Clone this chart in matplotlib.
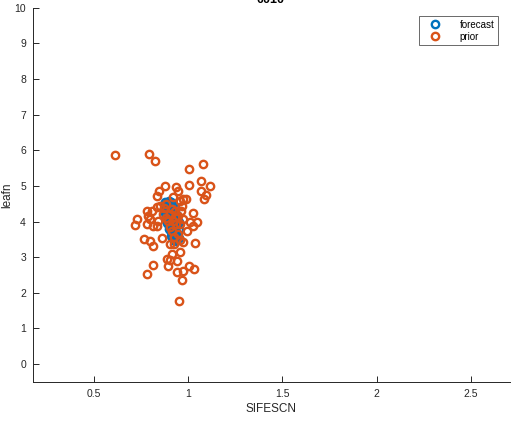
import matplotlib
matplotlib.use("Agg")
import matplotlib.pyplot as plt

plt.rcParams['font.family'] = ['Liberation Sans', 'DejaVu Sans']

# forecast ensemble (SIFESCN, leafn)
forecast_x = [0.90, 0.89, 0.91, 0.88, 0.90, 0.92, 0.89, 0.91, 0.93, 0.90, 0.92, 0.88,
              0.91, 0.93, 0.89, 0.90, 0.92, 0.94, 0.90, 0.91, 0.93, 0.89, 0.91, 0.93,
              0.90, 0.92, 0.94, 0.90, 0.91, 0.93, 0.91, 0.92, 0.94, 0.91, 0.93, 0.92,
              0.94, 0.93, 0.95, 0.95, 0.95, 0.87, 0.875, 0.935]
forecast_y = [4.58, 4.52, 4.55, 4.45, 4.46, 4.50, 4.38, 4.40, 4.42, 4.30, 4.32, 4.25,
              4.22, 4.25, 4.15, 4.12, 4.14, 4.18, 4.05, 4.02, 4.06, 3.96, 3.94, 3.97,
              3.88, 3.86, 3.90, 3.80, 3.76, 3.78, 3.70, 3.66, 3.68, 3.60, 3.58, 3.52,
              3.50, 3.46, 3.55, 3.75, 4.00, 4.35, 4.55, 3.62]

# prior ensemble (SIFESCN, leafn)
prior_x = [0.611, 0.792, 0.823, 1.004, 1.078, 1.004, 1.067, 1.115, 1.067, 1.094,
           1.083, 0.876, 0.845, 0.834, 0.935, 0.945, 0.781, 0.808, 0.834, 0.850,
           0.728, 0.717, 0.786, 0.797, 0.781, 0.813, 0.834, 0.839, 1.025, 0.972,
           1.046, 1.025, 0.993, 0.967, 0.956, 0.972, 0.919, 0.914, 0.945, 0.765,
           0.797, 0.813, 0.861, 0.903, 0.924, 0.972, 1.036, 0.956, 0.914, 0.887,
           0.903, 0.940, 0.892, 0.813, 0.781, 0.940, 0.972, 1.004, 1.030, 0.967,
           0.951, 0.903, 0.929, 0.892, 0.935, 0.914, 0.945, 0.882, 0.956, 0.866,
           0.961, 0.924, 0.903, 0.956, 0.871, 0.882, 0.929, 0.919, 1.009, 0.988]
prior_y = [5.88, 5.91, 5.69, 5.49, 5.63, 5.04, 5.15, 5.01, 4.87, 4.76,
           4.62, 4.99, 4.87, 4.71, 4.96, 4.87, 4.29, 4.31, 4.40, 4.43,
           4.06, 3.90, 4.15, 4.06, 3.92, 3.87, 3.87, 4.01, 4.23, 4.06,
           3.98, 3.87, 3.73, 4.43, 4.57, 4.62, 4.68, 4.34, 4.15, 3.50,
           3.45, 3.31, 3.53, 3.36, 3.36, 3.42, 3.39, 3.14, 3.08, 2.94,
           2.91, 2.89, 2.75, 2.77, 2.52, 2.58, 2.61, 2.75, 2.66, 2.35,
           1.76, 4.20, 4.29, 4.01, 3.92, 3.73, 3.64, 4.48, 3.92, 4.20,
           4.29, 3.56, 3.84, 3.47, 4.37, 4.10, 4.12, 4.03, 4.00, 4.62]

blue = '#0072BD'
orange = '#D95319'
axis_color = '#262626'

fig = plt.figure(figsize=(5.14, 4.34), dpi=100)
ax = fig.add_axes([0.064, 0.12, 0.928, 0.862])

ax.plot(forecast_x, forecast_y, linestyle='none', marker='o', markersize=5.3,
        markerfacecolor='none', markeredgecolor=blue, markeredgewidth=1.7,
        label='forecast')
ax.plot(prior_x, prior_y, linestyle='none', marker='o', markersize=5.3,
        markerfacecolor='none', markeredgecolor=orange, markeredgewidth=1.7,
        label='prior')

ax.set_xlim(0.177, 2.706)
ax.set_ylim(-0.5, 10)
ax.set_xticks([0.5, 1, 1.5, 2, 2.5])
ax.set_xticklabels(['0.5', '1', '1.5', '2', '2.5'])
ax.set_yticks(range(0, 11))

for side in ('top', 'right'):
    ax.spines[side].set_visible(False)
for side in ('left', 'bottom'):
    ax.spines[side].set_color(axis_color)
    ax.spines[side].set_linewidth(0.7)

ax.tick_params(direction='in', length=4, width=0.7, colors=axis_color,
               labelsize=7.5, pad=5)

ax.set_xlabel('SIFESCN', fontsize=8.5, color=axis_color, labelpad=3)
ax.set_ylabel('leafn', fontsize=8.5, color=axis_color)
ax.yaxis.set_label_coords(-0.042, 0.5)

fig.text(0.527, 0.994, '0010', ha='center', va='baseline', fontsize=9,
         fontweight='bold', color='black')

leg = ax.legend(loc='upper right', bbox_to_anchor=(0.985, 0.99), fontsize=7,
                frameon=True, fancybox=False, edgecolor=axis_color,
                handletextpad=1.2, borderpad=0.35, labelspacing=0.2,
                handlelength=2.6)
leg.get_frame().set_linewidth(0.6)

fig.savefig('out.png', dpi=100)
